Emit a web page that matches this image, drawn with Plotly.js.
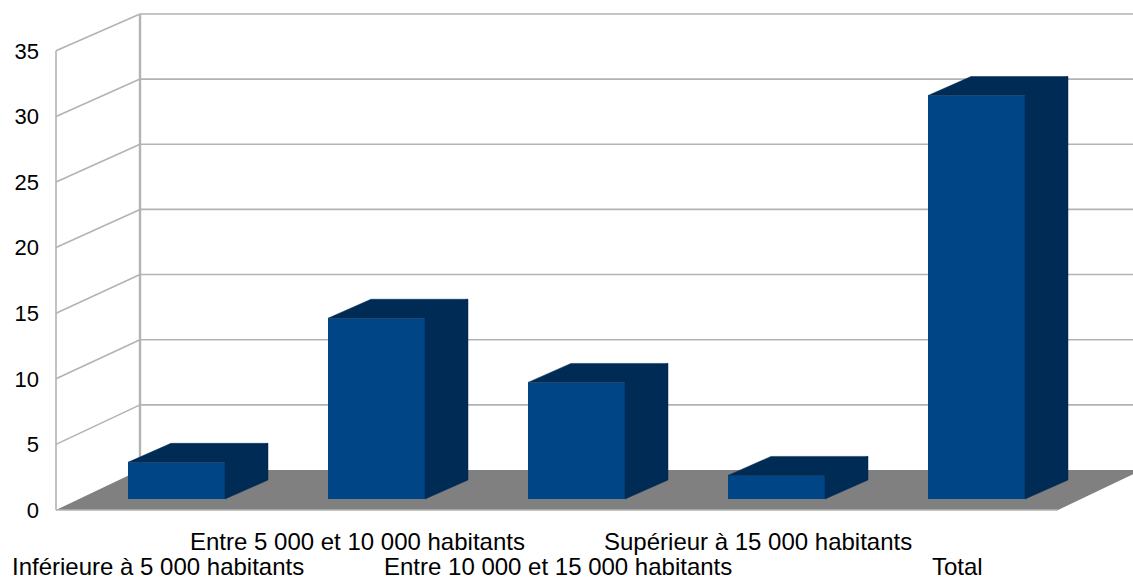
<!DOCTYPE html>
<html>
<head>
<meta charset="utf-8">
<script src="https://cdn.plot.ly/plotly-3.0.1.min.js"></script>
<style>html,body{margin:0;padding:0;background:#fff;}#chart{width:1133px;height:581px;}</style>
</head>
<body>
<div id="chart"></div>
<script>
// ---- data ----
const categories = [
  "Inférieure à 5 000 habitants",
  "Entre 5 000 et 10 000 habitants",
  "Entre 10 000 et 15 000 habitants",
  "Supérieur à 15 000 habitants",
  "Total"
];
const values = [2.8, 13.8, 8.9, 1.8, 30.8];
const tickValues = [0, 5, 10, 15, 20, 25, 30, 35];

// ---- style / geometry (pixel-derived) ----
const W = 1133, H = 581;
const ML = 50;
const pxPerCat = 200, cat0px = 176.5;
const xr0 = (ML - cat0px) / pxPerCat;
const xr1 = xr0 + (W - ML) / pxPerCat;
const barBasePx = 499, barScale = 13.1;        // bar front plane
const frontBasePx = 510, frontScale = 13.12;   // front wall plane
const backBasePx = 470, backScale = 13.03;     // back wall plane
const pxToX = px => (px - cat0px) / pxPerCat;
const pxToY2 = py => (frontBasePx - py) / frontScale;
const barW = 97 / pxPerCat;
const depthX = 43 / pxPerCat, depthY = 19 / barScale;
const xFront = pxToX(56), xBack = pxToX(140);
const gridColor = '#b3b3b3';
const frontColor = '#004586', darkColor = '#002b55';

const idx = categories.map((c, i) => i);

// 3D faces (top + side) built from values
const fx = [], fy = [];
values.forEach((v, i) => {
  const l = i - barW / 2, r = i + barW / 2;
  // top face
  fx.push(l, r, r + depthX, l + depthX, l, null);
  fy.push(v, v, v + depthY, v + depthY, v, null);
  // side face
  fx.push(r, r + depthX, r + depthX, r, r, null);
  fy.push(0, depthY, v + depthY, v, 0, null);
});

const traces = [
  {
    type: 'bar', x: idx, y: values, width: barW,
    marker: {color: frontColor, line: {width: 0}},
    hoverinfo: 'skip', xaxis: 'x', yaxis: 'y'
  },
  {
    type: 'scatter', mode: 'lines', x: fx, y: fy, fill: 'toself',
    fillcolor: darkColor, line: {width: 0.5, color: darkColor},
    hoverinfo: 'skip', xaxis: 'x', yaxis: 'y', connectgaps: false
  },
  { // dummy trace to activate y2
    type: 'scatter', mode: 'markers', x: [xr0], y: [0], yaxis: 'y2',
    marker: {opacity: 0}, hoverinfo: 'skip'
  }
];

// walls / floor shapes
const shapes = [];
const backY2 = v => pxToY2(backBasePx - backScale * v);
tickValues.forEach(v => {
  if (v > 0) {
    shapes.push({type: 'line', xref: 'x', yref: 'y2', x0: xBack, x1: xr1 + 0.5,
      y0: backY2(v), y1: backY2(v), line: {color: gridColor, width: 1.6}, layer: 'below'});
    shapes.push({type: 'line', xref: 'x', yref: 'y2', x0: xFront, x1: xBack,
      y0: v, y1: backY2(v), line: {color: gridColor, width: 1.6}, layer: 'below'});
  }
});
shapes.push({type: 'line', xref: 'x', yref: 'y2', x0: xBack, x1: xBack,
  y0: backY2(0), y1: backY2(35), line: {color: gridColor, width: 2.4}, layer: 'below'});
shapes.push({type: 'line', xref: 'x', yref: 'y2', x0: xFront, x1: xFront,
  y0: 0, y1: 35, line: {color: gridColor, width: 1.6}, layer: 'below'});
// floor
const fr = pxToX(1058), br = pxToX(1142);
shapes.push({type: 'path', xref: 'x', yref: 'y2', layer: 'below',
  path: `M ${xFront} 0 L ${fr} 0 L ${br} ${backY2(0)} L ${xBack} ${backY2(0)} Z`,
  fillcolor: '#808080', line: {width: 0}});
shapes.push({type: 'line', xref: 'x', yref: 'y2', x0: xFront, x1: fr, y0: 0, y1: 0,
  line: {color: gridColor, width: 1.6}, layer: 'below'});

// category labels (staggered)
const annotations = categories.map((c, i) => ({
  text: c, xref: 'x', yref: 'paper', x: i - 19 / pxPerCat,
  y: (i % 2 === 1) ? (H - 541) / H : (H - 566) / H,
  xanchor: 'center', yanchor: 'middle', showarrow: false,
  font: {family: 'Liberation Sans, Arial, sans-serif', size: 24, color: '#000'}
}));

const layout = {
  width: W, height: H,
  margin: {l: ML, r: 0, t: 0, b: 0, pad: 0},
  paper_bgcolor: '#fff', plot_bgcolor: 'rgba(0,0,0,0)',
  showlegend: false,
  xaxis: {range: [xr0, xr1], visible: false, fixedrange: true},
  yaxis: {range: [-(H - barBasePx) / barScale, barBasePx / barScale], visible: false, fixedrange: true},
  yaxis2: {
    overlaying: 'y', side: 'left',
    range: [-(H - frontBasePx) / frontScale, frontBasePx / frontScale],
    tickvals: tickValues, ticktext: tickValues.map(String),
    showgrid: false, zeroline: false, showline: false, ticks: '',
    ticklabelstandoff: 10,
    tickfont: {family: 'Liberation Sans, Arial, sans-serif', size: 22, color: '#000'},
    fixedrange: true
  },
  shapes: shapes,
  annotations: annotations
};

Plotly.newPlot('chart', traces, layout, {displayModeBar: false, staticPlot: true});
</script>
</body>
</html>
